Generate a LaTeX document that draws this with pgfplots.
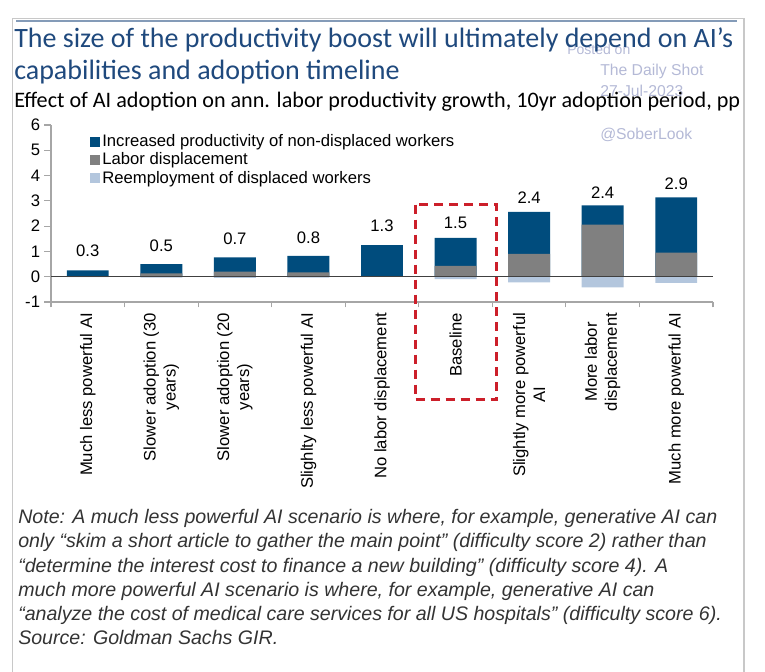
\documentclass[border=0pt]{standalone}
\usepackage{fontspec}
\setmainfont{Liberation Sans}
\newfontfamily\calibri{Carlito}
\usepackage{pgfplots}
\usepackage{pgfplotstable}
\pgfplotsset{compat=1.18}
\definecolor{dblue}{HTML}{004C7D}
\definecolor{bargray}{HTML}{808080}
\definecolor{lblue}{HTML}{B3C6DD}
\definecolor{axisgray}{HTML}{A6A6A6}
\definecolor{zerogray}{HTML}{404040}
\definecolor{titleblue}{HTML}{1F497D}
\definecolor{framegray}{HTML}{C8C8C8}
\definecolor{wmark}{HTML}{B4B9D6}
\definecolor{boxred}{HTML}{CC1F2A}
\definecolor{notegray}{HTML}{333333}

\pgfplotstableread{
x tot gray neg ly lab
0 0.25 0.00 -0.02 0.80 0.3
1 0.50 0.13 -0.04 1.00 0.5
2 0.76 0.20 -0.05 1.26 0.7
3 0.82 0.17 -0.04 1.33 0.8
4 1.25 0.00 0.00 1.79 1.3
5 1.54 0.43 -0.10 1.92 1.5
6 2.56 0.90 -0.22 2.91 2.4
7 2.82 2.06 -0.42 3.11 2.4
8 3.14 0.95 -0.24 3.44 2.9
}\datatable

\newcommand{\axfont}{\fontsize{12.5}{15}\selectfont}
\newcommand{\notefont}{\fontsize{14.7}{18}\selectfont\itshape}

\begin{document}
\begin{tikzpicture}
\begin{scope}[x=0.75pt,y=0.75pt]
\useasboundingbox (0,0) rectangle (765,672);
% frame
\draw[framegray, line width=1pt] (12.7,0) -- (12.7,653.7) -- (744,653.7) -- (744,0);
\draw[titleblue!55, line width=1.4pt] (16,651) -- (737,651);
% watermarks
\node[anchor=base west, inner sep=0, text=wmark, font=\fontsize{10.5}{12}\selectfont] at (567,617) {Posted on};
\node[anchor=base west, inner sep=0, text=wmark, font=\fontsize{11.8}{14}\selectfont] at (600,596) {The Daily Shot};
\node[anchor=base west, inner sep=0, text=wmark, font=\fontsize{11.8}{14}\selectfont] at (600,575) {27-Jul-2023};
\node[anchor=base west, inner sep=0, text=wmark, font=\fontsize{11.8}{14}\selectfont] at (600,532) {@SoberLook};
% titles
\node[anchor=base west, inner sep=0, text=titleblue, font=\calibri\fontsize{21}{24}\selectfont] at (14,624) {The size of the productivity boost will ultimately depend on AI’s};
\node[anchor=base west, inner sep=0, text=titleblue, font=\calibri\fontsize{21}{24}\selectfont] at (14,592) {capabilities and adoption timeline};
\node[anchor=base west, inner sep=0, text=black, font=\calibri\fontsize{16.6}{20}\selectfont] at (14,564) {Effect of AI adoption on ann. labor productivity growth, 10yr adoption period, pp};
% note
\node[anchor=base west, inner sep=0, text=notegray, font=\notefont] at (18,148.5) {Note: A much less powerful AI scenario is where, for example, generative AI can};
\node[anchor=base west, inner sep=0, text=notegray, font=\notefont] at (18,124.2) {only “skim a short article to gather the main point” (difficulty score 2) rather than};
\node[anchor=base west, inner sep=0, text=notegray, font=\notefont] at (18,99.9) {“determine the interest cost to finance a new building” (difficulty score 4). A};
\node[anchor=base west, inner sep=0, text=notegray, font=\notefont] at (18,75.6) {much more powerful AI scenario is where, for example, generative AI can};
\node[anchor=base west, inner sep=0, text=notegray, font=\notefont] at (18,51.3) {“analyze the cost of medical care services for all US hospitals” (difficulty score 6).};
\node[anchor=base west, inner sep=0, text=notegray, font=\notefont] at (18,27) {Source: Goldman Sachs GIR.};
\end{scope}

\begin{axis}[
  at={(38.25pt,277.5pt)}, anchor=south west,
  scale only axis, width=496.5pt, height=132.75pt,
  xmin=-0.5, xmax=8.5, ymin=-1, ymax=6,
  axis x line*=bottom, axis y line*=left,
  axis line style={draw=axisgray, line width=0.9pt, -},
  ytick={-1,0,...,6},
  xtick={0,...,8},
  xticklabels={Much less powerful AI,{Slower adoption (30\\years)},{Slower adoption (20\\years)},Slighlty less powerful AI,No labor displacement,Baseline,{Slightly more powerful\\AI},{More labor\\displacement},Much more powerful AI},
  minor xtick={-0.5,0.5,...,8.5},
  tick align=outside,
  major x tick style={draw=none},
  minor x tick style={draw=axisgray, line width=0.9pt},
  major y tick style={draw=axisgray, line width=0.9pt},
  major tick length=5pt, minor tick length=4pt,
  tick label style={font=\axfont, text=black},
  /pgf/number format/assume math mode=true,
  xticklabel style={rotate=90, anchor=east, align=center, inner sep=3pt},
  yticklabel style={inner sep=3pt},
  bar width=0.57,
  clip=false,
  legend style={at={(0.058,0.95)}, anchor=north west, draw=none, fill=none, font=\axfont, inner sep=0pt, row sep=2pt, legend cell align=left,
    nodes={inner xsep=2pt, inner ysep=0.5pt}},
  legend image code/.code={\fill[#1, draw=none] (0pt,-3.6pt) rectangle (7.5pt,3.6pt);},
]
\addplot[ybar, bar shift=0pt, fill=dblue, draw=none] table[x=x, y=tot] {\datatable};
\addlegendentry{Increased productivity of non-displaced workers}
\addplot[ybar, bar shift=0pt, fill=bargray, draw=none] table[x=x, y=gray] {\datatable};
\addlegendentry{Labor displacement}
\addplot[ybar, bar shift=0pt, fill=lblue, draw=none] table[x=x, y=neg] {\datatable};
\addlegendentry{Reemployment of displaced workers}
\addplot[only marks, mark=none, nodes near coords={\pgfplotspointmeta}, point meta=explicit symbolic,
  nodes near coords style={anchor=base, inner sep=0pt, font=\axfont, text=black}, forget plot] table[x=x, y=ly, meta=lab] {\datatable};
\draw[zerogray, line width=0.9pt] (axis cs:-0.5,0) -- (axis cs:8.5,0);
\draw[boxred, line width=2.25pt, dash pattern=on 6.75pt off 4.5pt] (axis cs:4.458,2.85) rectangle (axis cs:5.559,-4.86);
\end{axis}
\end{tikzpicture}
\end{document}
